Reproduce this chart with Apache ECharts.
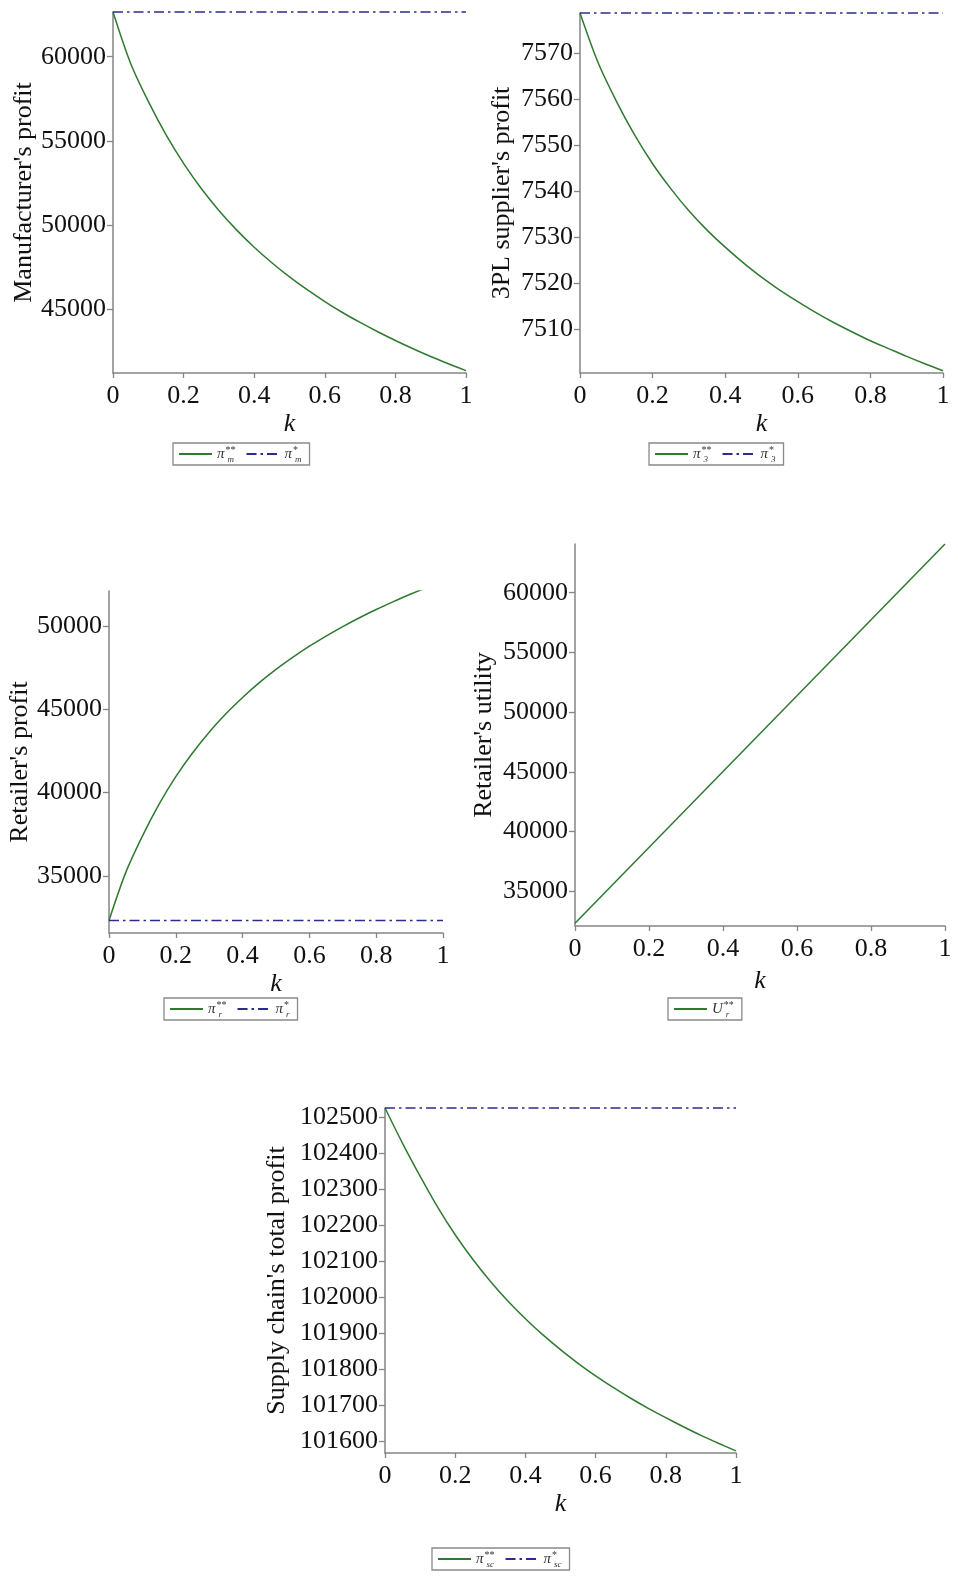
<!DOCTYPE html>
<html>
<head>
<meta charset="utf-8">
<script src="https://cdn.jsdelivr.net/npm/echarts@6/dist/echarts.min.js"></script>
<style>
html,body{margin:0;padding:0;background:#fff;}
#c{width:958px;height:1587px;}
</style>
</head>
<body>
<div id="c"></div>
<script>
// ---- data ----
const kValues = [0, 0.05, 0.1, 0.15, 0.2, 0.25, 0.3, 0.35, 0.4, 0.45, 0.5, 0.55, 0.6, 0.65, 0.7, 0.75, 0.8, 0.85, 0.9, 0.95, 1];
const kTicks = [0, 0.2, 0.4, 0.6, 0.8, 1];

const manufacturerCoop = [62650, 59600, 57350, 55380, 53670, 52180, 50880, 49730, 48700, 47780, 46940, 46180, 45480, 44830, 44240, 43690, 43170, 42680, 42220, 41790, 41380];
const manufacturerBase = 62650;
const manufacturerTicks = [45000, 50000, 55000, 60000];

const tplCoop = [7578.7, 7567.9, 7559.6, 7552.3, 7546.0, 7540.6, 7535.8, 7531.6, 7527.9, 7524.5, 7521.4, 7518.6, 7516.1, 7513.7, 7511.5, 7509.5, 7507.6, 7505.9, 7504.2, 7502.6, 7501.1];
const tplBase = 7578.7;
const tplTicks = [7510, 7520, 7530, 7540, 7550, 7560, 7570];

const retailerCoop = [32330, 35200, 37390, 39310, 40960, 42380, 43630, 44730, 45710, 46600, 47400, 48120, 48790, 49400, 49970, 50500, 50990, 51450, 51890, 52300, 52690];
const retailerBase = 32330;
const retailerTicks = [35000, 40000, 45000, 50000];

const utilityK = [0, 1];
const utilityCoop = [32330, 64080];
const utilityTicks = [35000, 40000, 45000, 50000, 55000, 60000];

const chainCoop = [102525, 102427, 102336, 102250, 102173, 102105, 102044, 101989, 101940, 101895, 101854, 101816, 101781, 101749, 101719, 101691, 101665, 101640, 101616, 101594, 101573];
const chainBase = 102525;
const chainTicks = [101600, 101700, 101800, 101900, 102000, 102100, 102200, 102300, 102400, 102500];

// ---- style ----
const SERIF = 'Liberation Serif';
const GREEN = '#2f7a2f';
const BLUE = '#2c2c8c';
const AXIS = '#858585';
const DASHDOT = [10, 4, 2.5, 4];

function pairs(xs, ys){ return xs.map((x,i)=>[x, ys[i]]); }
function flat(v){ return [[0, v], [1, v]]; }

const panels = [
  {grid:{left:113, top:12, width:353, height:361}, min:41242, max:62650, ticks:manufacturerTicks, name:"Manufacturer's profit", nameGap:76, xGap:38,
   coop:pairs(kValues, manufacturerCoop), base:manufacturerBase, sub:'m', legend:{left:173, top:443}},
  {grid:{left:580, top:13, width:363, height:360}, min:7500.6, max:7578.7, ticks:tplTicks, name:"3PL supplier's profit", nameGap:65, xGap:38,
   coop:pairs(kValues, tplCoop), base:tplBase, sub:'3', legend:{left:649, top:443}},
  {grid:{left:109, top:591, width:334, height:342}, min:31576, max:52103, ticks:retailerTicks, name:"Retailer's profit", nameGap:72, xGap:38,
   coop:pairs(kValues, retailerCoop), base:retailerBase, sub:'r', legend:{left:164, top:998}},
  {grid:{left:575, top:544, width:370, height:382}, min:32092, max:64081, ticks:utilityTicks, name:"Retailer's utility", nameGap:78, xGap:42,
   coop:pairs(utilityK, utilityCoop), base:null, sub:'r', legend:{left:668, top:998}, utility:true},
  {grid:{left:385, top:1108, width:351, height:345}, min:101567, max:102525, ticks:chainTicks, name:"Supply chain's total profit", nameGap:95, xGap:38,
   coop:pairs(kValues, chainCoop), base:chainBase, sub:'sc', legend:{left:432, top:1548}}
];

const grids=[], xAxes=[], yAxes=[], series=[], legends=[];
const LEG = '#333';
const richStyles = {
  p:{fontFamily:SERIF, fontStyle:'italic', fontSize:15, color:LEG, lineHeight:22, verticalAlign:'middle'},
  sup:{fontFamily:SERIF, fontSize:10, color:LEG, width:1, align:'left', lineHeight:22, verticalAlign:'top', padding:[2,0,0,1]},
  sub:{fontFamily:SERIF, fontStyle:'italic', fontSize:9, color:LEG, lineHeight:22, verticalAlign:'bottom', padding:[0,0,1,1]}
};

panels.forEach((p, i) => {
  grids.push(Object.assign({}, p.grid));
  xAxes.push({
    type:'value', gridIndex:i, min:0, max:1, interval:0.2,
    name:'k', nameLocation:'middle', nameGap:p.xGap,
    nameTextStyle:{fontFamily:SERIF, fontStyle:'italic', fontSize:26, color:'#111'},
    axisLine:{show:true, onZero:false, lineStyle:{color:AXIS, width:1.5}},
    axisTick:{show:true, length:5, lineStyle:{color:AXIS, width:1.3}, customValues:kTicks},
    axisLabel:{fontFamily:SERIF, fontSize:26, color:'#111', margin:10, customValues:kTicks, formatter:v=>String(+v.toFixed(2))},
    splitLine:{show:false}
  });
  yAxes.push({
    type:'value', gridIndex:i, min:p.min, max:p.max,
    name:p.name, nameLocation:'middle', nameGap:p.nameGap, nameRotate:90,
    nameTextStyle:{fontFamily:SERIF, fontSize:26, color:'#111'},
    axisLine:{show:true, onZero:false, lineStyle:{color:AXIS, width:1.5}},
    axisTick:{show:true, length:6, lineStyle:{color:AXIS, width:1.3}, customValues:p.ticks},
    axisLabel:{fontFamily:SERIF, fontSize:26, color:'#111', margin:7, customValues:p.ticks, formatter:v=>String(v)},
    splitLine:{show:false}
  });
  const coopName = 'coop' + i, baseName = 'base' + i;
  series.push({
    name:coopName, type:'line', xAxisIndex:i, yAxisIndex:i, data:p.coop,
    symbol:'none', smooth:p.utility ? false : 0.3, clip:true,
    lineStyle:{color:GREEN, width:1.5}, itemStyle:{color:GREEN}
  });
  const legendData = [coopName];
  if (p.base !== null) {
    series.push({
      name:baseName, type:'line', xAxisIndex:i, yAxisIndex:i, data:flat(p.base),
      symbol:'none', clip:false,
      lineStyle:{color:BLUE, width:1.4, type:DASHDOT}, itemStyle:{color:BLUE}
    });
    legendData.push(baseName);
  }
  const sub = p.sub;
  const letter = p.utility ? 'U' : 'π';
  legends.push({
    data:legendData, left:p.legend.left, top:p.legend.top,
    orient:'horizontal', itemWidth:33, itemHeight:10, itemGap:10,
    padding:[0,8,0,5], borderColor:'#8a8a8a', borderWidth:1.3, backgroundColor:'#fff',
    selectedMode:false,
    itemStyle:{opacity:0, borderWidth:0},
    formatter: name => name.startsWith('coop') ? ('{p|' + letter + '}{sup|**}{sub|' + sub + '}') : ('{p|' + letter + '}{sup|*}{sub|' + sub + '}'),
    textStyle:{rich:richStyles, padding:[0,8,0,0]}
  });
});

const chart = echarts.init(document.getElementById('c'), null, {renderer:'canvas'});
chart.setOption({
  backgroundColor:'#ffffff',
  animation:false,
  grid:grids, xAxis:xAxes, yAxis:yAxes, series:series, legend:legends
});
</script>
</body>
</html>
